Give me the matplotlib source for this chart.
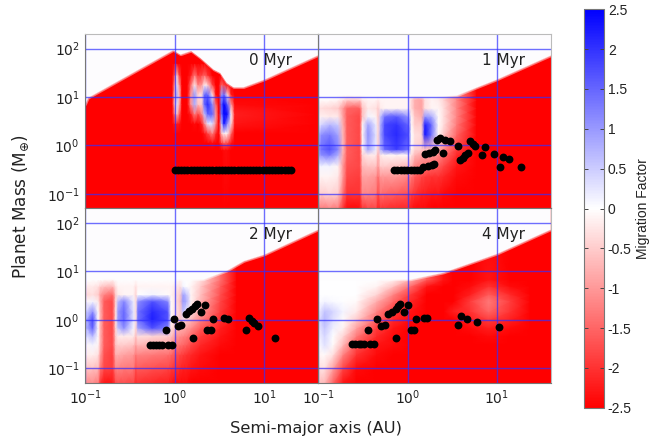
import numpy as np
import matplotlib
matplotlib.use("Agg")
import matplotlib.pyplot as plt
from matplotlib.cm import ScalarMappable
from matplotlib.colors import Normalize

R = -2.5
W, H = 667, 443

TITLES = ["0 Myr", "1 Myr", "2 Myr", "4 Myr"]

# everything below is log10(a / AU) and log10(M / Mearth)
COLS_0 = [-1, -.03, -.005, .02, .05, .08, .14, .18, .22, .26, .30, .33, .37, .42,
          .46, .49, .52, .55, .59, .63, .67, 1.6]
ROWS_0 = [-1.3, -.1, .05, .25, .45, .65, .85, 1.05, 1.25, 1.45, 1.7, 2.3]
FIELD_0 = [
    [R, R, R, R, R, R, R, R, R, R, R, R],
    [R, R, R, R, R, R, R, R, R, R, R, R],
    [R, R, R, R, -2.3, -1.5, -.8, -.8, -1.2, -1.8, R, R],
    [R, R, R, R, -2.2, -.5, .3, .8, .3, -.4, R, R],
    [R, R, R, R, -2.3, -1.5, -.8, -.6, -1, -1.8, R, R],
    [R, R, R, R, R, R, R, R, R, R, R, R],
    [R, R, R, R, R, R, R, R, R, R, R, R],
    [R, R, R, R, R, -2.2, -1, -1, -1.4, -2.2, R, R],
    [R, R, R, R, -2.4, -1.2, .8, 1, -.2, -1.3, R, R],
    [R, R, R, R, R, -1.8, -.6, -.4, -1.2, -2, R, R],
    [R, R, R, R, -2.2, -1.2, -.5, -.3, -1, -1.8, R, R],
    [R, R, R, -2.3, -1.2, .6, 1.5, 1.5, -.1, -1.5, R, R],
    [R, R, R, -1.8, .2, 1.6, 2.1, 1.5, -.5, -2, R, R],
    [R, R, -2.4, -1.2, .3, 1.5, 1.1, -.2, -1.8, R, R, R],
    [R, R, R, -2.1, -1.2, -1, -1.5, -2.4, R, R, R, R],
    [R, R, R, R, R, R, R, R, R, R, R, R],
    [R, R, -2, -.6, .6, 1.4, 1.6, 1, -1.5, R, R, R],
    [R, -2.4, -1.6, -.1, 2.3, 2.5, 2.5, 1.5, -1.8, R, R, R],
    [R, -2.4, -1.8, -.2, 1, 2.3, 1.5, -.3, -2.3, R, R, R],
    [R, R, -2.3, -1.5, -.4, -.1, -1, -2.2, R, R, R, R],
    [R, R, R, R, -2.3, -2.2, -2.4, R, R, R, R, R],
    [R, R, R, R, R, R, R, R, R, R, R, R],
]
EDGE_A_0 = [-1, -.97, -.019, .063, .181, .285, .433, .507, .581, .656, .767, 1.0, 1.6]
EDGE_M_0 = [.85, .98, 1.966, 1.876, 1.952, 1.807, 1.566, 1.497, 1.29, 1.2, 1.2, 1.359, 1.862]

COLS_1 = [-1, -.966, -.873, -.78, -.723, -.678, -.536, -.506, -.442, -.356, -.33,
          -.303, -.255, -.124, .007, .045, .082, .157, .195, .27, .345, .4, .55, .775, 1.6]
ROWS_1 = [-1.3, -1, -.64, -.43, -.2, -.08, .22, .43, .6, .77, .94, 1.05, 2.3]
FIELD_1 = [
    [-1.2, -.4, -.1, 0, .7, .9, .6, .1, -.1, -.3, 0, 0, 0],
    [-1.3, -.5, -.1, .1, 1.1, 1.4, 1.1, .4, -.15, -.35, -.02, 0, 0],
    [-1.2, -.4, -.1, .1, 1.3, 1.7, 1.3, .7, -.2, -.4, -.05, 0, 0],
    [-1.3, -.5, -.2, -.1, .8, 1.2, .9, .5, -.2, -.5, -.1, 0, 0],
    [-2, -1.4, -1, -1, -.8, -.7, -.7, -.8, -.9, -1, -.3, 0, 0],
    [-2.4, -2, -1.8, -1.7, -1.6, -1.6, -1.6, -1.6, -1.6, -1.5, -.5, 0, 0],
    [-2.4, -2, -1.9, -1.8, -1.8, -1.8, -1.8, -1.8, -1.8, -1.6, -.5, 0, 0],
    [-2, -1.2, -.9, -.7, -.4, -.1, -.1, -.1, -.6, -.6, -.2, 0, 0],
    [-1.8, -1.2, -.9, -.6, -.2, .9, 1.1, .9, .1, -.2, -.1, 0, 0],
    [-1.8, -1.3, -1, -.6, -.2, .2, .3, .2, -.1, -.3, -.1, 0, 0],
    [-2.2, -1.8, -1.4, -1, -.8, -.5, -.4, -.4, -.5, -.5, -.2, 0, 0],
    [-2, -1.4, -1, -.5, -.2, .8, .9, .8, .6, -.2, -.1, 0, 0],
    [-2, -1.5, -1, -.5, -.1, 1.5, 1.8, 1.8, 1.4, -.1, -.1, 0, 0],
    [-2.1, -1.6, -1, -.6, -.1, 1.9, 2.1, 2, 1.6, -.1, -.1, 0, 0],
    [-2.1, -1.7, -1.2, -.7, -.1, 1.4, 1.7, 1.5, 1, -.1, -.1, 0, 0],
    [-2.3, -1.9, -1.3, -.8, -.3, -.1, 0, -.1, -.1, -.4, -.4, 0, 0],
    [-2.4, -2, -1.6, -1.2, -.7, -.4, -.3, -.5, -.6, -.8, -.8, -.2, 0],
    [-2.4, -2.2, -1.8, -1.3, -.9, -.5, -.4, -.5, -.8, -.9, -.9, -.2, 0],
    [-2.4, -2.2, -1.9, -1.4, -.9, -.6, 2.3, 2.2, 1, -.3, -.3, -.1, 0],
    [R, -2.3, -2, -1.5, -1, -.7, 1.3, 1.4, .8, -.1, -.1, 0, 0],
    [R, -2.3, -2, -1.6, -1.2, -.8, -.1, -.05, -.05, -.1, -.2, -.1, 0],
    [R, -2.4, -2.1, -1.8, -1.4, -1.1, -.5, -.3, -.3, -.3, -.4, -.2, 0],
    [R, R, -2.4, -2.3, -2.1, -1.9, -1.5, -1.3, -1.2, -1.2, -1.2, -1, -1],
    [R, R, R, R, R, R, R, R, R, R, R, R, R],
    [R, R, R, R, R, R, R, R, R, R, R, R, R],
]
EDGE_A_1 = [-1, .3, .55, .7, 1.0, 1.607]
EDGE_M_1 = [1.05, 1.0, 1.03, 1.14, 1.36, 1.86]

COLS_2 = [-1, -.919, -.856, -.833, -.789, -.696, -.659, -.633, -.567, -.463, -.437,
          -.411, -.252, -.078, -.041, .007, .056, .093, .13, .181, .285, .507, .693, 1.6]
ROWS_2 = [-1.3, -1, -.72, -.52, -.34, -.17, 0, .17, .38, .52, .69, .83, 2.3]
FIELD_2 = [
    [-1.1, -.6, -.2, -.1, .2, .5, .6, .3, -.1, -.4, -.2, 0, 0],
    [-1.1, -.6, -.15, .1, .7, 1.6, 1.8, 1.1, .1, -.3, -.2, 0, 0],
    [-1.3, -.7, -.3, -.1, -.05, -.05, -.05, -.05, -.2, -.5, -.3, 0, 0],
    [-2, -1.3, -.9, -.7, -.7, -.7, -.7, -.7, -.8, -.9, -.5, 0, 0],
    [-2.3, -1.8, -1.7, -1.6, -1.6, -1.6, -1.6, -1.6, -1.6, -1.2, -.6, -.05, 0],
    [-2.3, -1.9, -1.9, -1.8, -1.8, -1.8, -1.8, -1.8, -1.8, -1.5, -.7, -.1, 0],
    [-1.8, -1.2, -.8, -.6, -.5, -.4, -.3, -.3, -.4, -.5, -.3, 0, 0],
    [-1.7, -1.2, -.8, -.5, -.2, .6, 1, 1, .7, -.2, -.1, 0, 0],
    [-1.7, -1.3, -.9, -.5, -.2, 1.1, 1.5, 1.5, 1.2, -.1, -.1, 0, 0],
    [-1.8, -1.3, -1, -.6, -.2, .1, .3, .3, .2, -.1, -.1, 0, 0],
    [-2.1, -1.7, -1.3, -.9, -.6, -.4, -.3, -.3, -.3, -.4, -.3, 0, 0],
    [-2, -1.6, -1.2, -.7, -.3, .9, 1.4, 1.4, 1.1, 0, -.1, 0, 0],
    [-2.1, -1.7, -1.3, -.8, -.4, 1.7, 2.2, 2.1, 1.7, .1, -.1, 0, 0],
    [-2.2, -1.8, -1.4, -.9, -.5, 1.2, 1.7, 1.7, 1.2, -.05, -.1, 0, 0],
    [-2.3, -1.9, -1.5, -1, -.6, -.3, -.1, -.05, -.05, -.1, -.1, 0, 0],
    [-2.4, -2, -1.7, -1.3, -1, -.6, -.4, -.3, -.3, -.3, -.2, 0, 0],
    [-2.4, -2.1, -1.8, -1.4, -1.1, -.8, -.6, -.5, -.6, -.5, -.3, -.1, 0],
    [-2.4, -2.2, -1.9, -1.5, -1.2, -.8, -.4, .6, 1, .9, .1, 0, 0],
    [-2.4, -2.2, -2, -1.6, -1.3, -.9, -.5, .2, .8, .6, 0, 0, 0],
    [R, -2.3, -2.1, -1.8, -1.5, -1.1, -.7, -.3, -.1, -.1, -.1, 0, 0],
    [R, -2.4, -2.3, -2.1, -1.9, -1.6, -1.2, -.9, -.7, -.6, -.5, -.3, -.3],
    [R, R, R, -2.4, -2.3, -2.2, -2, -1.9, -1.8, -1.7, -1.6, -1.4, -1.4],
    [R, R, R, R, R, R, R, R, R, R, R, R, R],
    [R, R, R, R, R, R, R, R, R, R, R, R, R],
]
EDGE_A_2 = [-1, .32, .58, .77, 1.0, 1.6]
EDGE_M_2 = [.85, .83, 1.01, 1.21, 1.345, 1.86]

COLS_4 = [-1, -.929, -.835, -.723, -.573, -.348, -.161, .026, .213, .4, .513, .7,
          .906, 1.15, 1.375, 1.6]
ROWS_4 = ROWS_2
FIELD_4 = [
    [-.6, -.3, -.1, 0, .1, .2, .3, .1, 0, 0, 0, 0, 0],
    [-.7, -.3, -.05, .3, .4, .55, .7, .6, .1, 0, 0, 0, 0],
    [-1.5, -.9, -.3, -.05, 0, .15, .3, .4, .05, 0, 0, 0, 0],
    [-2.3, -1.8, -1.2, -.7, -.4, -.1, -.05, .1, 0, 0, 0, 0, 0],
    [R, -2.4, -2, -1.7, -1.3, -.9, -.5, -.2, -.05, 0, 0, 0, 0],
    [R, R, -2.4, -2.3, -2.1, -1.9, -1.5, -1.2, -.8, -.4, -.1, 0, 0],
    [R, R, R, -2.4, -2.4, -2.3, -2.1, -1.9, -1.5, -1.2, -.6, -.1, 0],
    [R, R, R, R, R, R, -2.4, -2.3, -2.1, -1.9, -1.4, -.7, 0],
    [R, R, R, R, R, R, R, R, R, R, -2.3, -1.6, -1.6],
    [R, R, R, R, R, R, R, R, R, R, R, -2.3, R],
    [R, R, R, R, R, R, R, -2.2, R, R, R, R, R],
    [R, R, R, R, R, -2.4, -2.2, -2, -1.9, -2.2, -2.4, R, R],
    [R, R, R, R, -2.4, -2.2, -1.9, -1.5, -1.3, -1.6, -2, -2.3, R],
    [R, R, R, R, R, -2.4, -2.2, -2, -1.9, -2.1, -2.4, R, R],
    [R, R, R, R, R, R, R, R, R, R, R, R, R],
    [R, R, R, R, R, R, R, R, R, R, R, R, R],
]
EDGE_A_4 = [-1, .03, .4, .77, 1.0, 1.6]
EDGE_M_4 = [.85, .83, .97, 1.21, 1.36, 1.86]

# planets
A_0 = [0, .035, .07, .105, .14, .175, .21, .245, .28, .315, .35, .385, .42, .455, .49,
       .525, .56, .595, .63, .665, .7, .735, .77, .805, .84, .875, .91, .945, .98,
       1.015, 1.05, 1.085, 1.12, 1.155, 1.19, 1.225, 1.26, 1.3]
M_0 = [-.51] * len(A_0)

A_1 = [-.154, -.116, -.079, -.041, -.004, .034, .071, .109, .139, .176, .232, .27, .292,
       .195, .243, .281, .311, .401, .333, .363, .419, .476, .562, .693, .73, .757, .865,
       .963, .835, .678, .644, .618, .588, 1.067, 1.131, 1.037, 1.266]
M_1 = [-.51, -.51, -.51, -.51, -.51, -.51, -.51, -.51, -.51, -.455, -.434, -.407, -.379,
       -.186, -.159, -.131, -.103, -.159, .103, .152, .103, .083, -.021, .083, .034, -.007,
       -.034, -.186, -.207, -.159, -.2, -.255, -.303, -.241, -.283, -.441, -.441]

A_2 = [-.281, -.244, -.207, -.178, -.148, -.078, -.037, -.104, -.004, .033, .07, .204, .119,
       .156, .193, .222, .248, .333, .296, .43, .363, .404, .552, .589, .83, .859, .889,
       .933, .8, 1.115]
M_2 = [-.517, -.517, -.517, -.517, -.517, -.517, -.517, -.214, .014, -.138, -.117, -.372,
       .124, .172, .228, .29, .331, .303, .159, .014, -.214, -.214, .028, .014, .028, -.028,
       -.069, -.124, -.214, -.372]

A_4 = [-.622, -.584, -.547, -.517, -.487, -.416, -.375, -.438, -.345, -.3, -.258, -.127,
       -.217, -.18, -.135, -.105, -.082, 0, -.041, .097, .034, .071, .187, .221, .566, .599,
       .67, .775, 1.019]
M_4 = [-.51, -.51, -.51, -.51, -.51, -.51, -.51, -.214, .014, -.131, -.117, -.372, .124,
       .159, .228, .29, .331, .303, .159, .014, -.214, -.214, .041, .028, -.103, .076, .014,
       -.041, -.159]

CBAR_TICKS = [2.5, 2, 1.5, 1, 0.5, 0, -0.5, -1, -1.5, -2, -2.5]
CBAR_LABELS = ["2.5", "2", "1.5", "1", "0.5", "0", "-0.5", "-1", "-1.5", "-2", "-2.5"]

PANELS = [
    (COLS_0, ROWS_0, FIELD_0, EDGE_A_0, EDGE_M_0, A_0, M_0),
    (COLS_1, ROWS_1, FIELD_1, EDGE_A_1, EDGE_M_1, A_1, M_1),
    (COLS_2, ROWS_2, FIELD_2, EDGE_A_2, EDGE_M_2, A_2, M_2),
    (COLS_4, ROWS_4, FIELD_4, EDGE_A_4, EDGE_M_4, A_4, M_4),
]


def add_axes_px(fig, left, top, right, bottom):
    return fig.add_axes([left / W, 1 - bottom / H, (right - left) / W, (bottom - top) / H])


fig = plt.figure(figsize=(W / 100, H / 100), dpi=100)
norm = Normalize(-2.5, 2.5)

boxes = [(85.3, 34, 318.3, 208.3), (318.3, 34, 550.7, 208.3),
         (85.3, 208.3, 318.3, 382.7), (318.3, 208.3, 550.7, 382.7)]

for i, (cols, rows, field, edge_a, edge_m, a, m) in enumerate(PANELS):
    ax = add_axes_px(fig, *boxes[i])
    x = 10 ** np.array(cols)
    y = 10 ** np.array(rows)
    ax.pcolormesh(x, y, np.array(field).T, cmap="bwr_r", norm=norm, shading="gouraud", zorder=1)

    # the white area above the disc edge
    ex = 10 ** np.array(edge_a)
    ey = 10 ** np.array(edge_m)
    ax.fill_between(ex, ey, 200, facecolor="#fdfcfe", edgecolor="#fdfcfe", lw=1.6, alpha=0.45, zorder=1.5)
    ax.fill_between(ex, ey, 200, facecolor="#fdfcfe", lw=0, zorder=1.6)

    ax.scatter(10 ** np.array(a), 10 ** np.array(m), s=32, c="black", lw=0, zorder=3)

    ax.set_xscale("log")
    ax.set_yscale("log")
    ax.set_xlim(0.1, 40)
    ax.set_ylim(0.05, 200)
    ax.set_xticks([0.1, 1, 10])
    ax.set_yticks([0.1, 1, 10, 100])
    ax.minorticks_off()
    ax.grid(True, color="#3030ff", lw=1, alpha=0.7)
    ax.set_axisbelow(False)
    ax.tick_params(length=0, labelsize=10, labelcolor="#222222", pad=4,
                   labelleft=i in (0, 2), labelbottom=i in (2, 3))
    for side in ax.spines:
        ax.spines[side].set_color("#777777")
        ax.spines[side].set_zorder(4)
    if i in (1, 3):
        ax.spines["right"].set_color("#bbbbbb")
    if i in (0, 1):
        ax.spines["top"].set_color("#bbbbbb")
    ax.text(0.888, 0.85, TITLES[i], transform=ax.transAxes, ha="right", va="center",
            fontsize=11, color="#222222", zorder=5)

fig.text(316 / W, 1 - 428 / H, "Semi-major axis (AU)", ha="center", va="center",
         fontsize=11.7, color="#222222")
fig.text(21 / W, 1 - 207 / H, r"Planet Mass (M$_{\oplus}$)", rotation=90, ha="center", va="center",
         fontsize=12.2, color="#222222")

cax = add_axes_px(fig, 583.7, 9.3, 603.7, 407.7)
cb = fig.colorbar(ScalarMappable(norm=norm, cmap="bwr_r"), cax=cax)
cb.set_ticks(CBAR_TICKS, labels=CBAR_LABELS)
cb.ax.tick_params(direction="in", length=3, width=0.7, left=True, right=True, color="#444444",
                  labelsize=10, labelcolor="#222222", pad=3)
for lab in cb.ax.get_yticklabels():
    lab.set_family("Liberation Sans")
cb.outline.set_edgecolor("#777777")
cb.outline.set_linewidth(0.8)
fig.text(643 / W, 1 - 209 / H, "Migration Factor", rotation=90, ha="center", va="center",
         fontsize=10, color="#222222", family="Liberation Sans")

fig.savefig("out.png", dpi=100)
